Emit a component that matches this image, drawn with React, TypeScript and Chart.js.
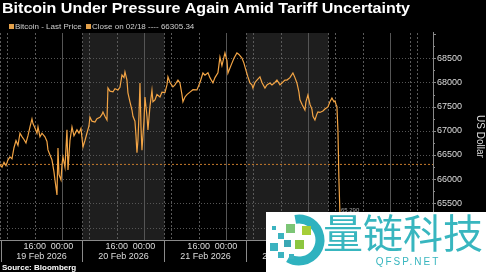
import React, { useEffect, useRef } from "react";
import { Chart, registerables } from "chart.js";

Chart.register(...registerables);

const TITLE = "Bitcoin Under Pressure Again Amid Tariff Uncertainty";
const SERIES_LABEL = "Bitcoin - Last Price";
const CLOSE_LABEL = "Close on 02/18 ---- 66305.34";
const CLOSE_VALUE = 66305.34;
const LAST_LABEL = "65,290";
const SOURCE = "Source: Bloomberg";
const Y_TITLE = "US Dollar";

// hours relative to 20 Feb 00:00 (chart time)
const hours = [
  -18.14, -17.56, -16.97, -16.39, -15.8, -15.22, -14.63, -14.05, -13.46, -12.88,
  -12.29, -11.71, -11.12, -10.54, -9.95, -9.36, -8.78, -8.49, -7.9, -7.32,
  -7.02, -6.44, -5.85, -4.98, -4.39, -4.1, -3.51, -2.93, -2.34, -2.05,
  -1.46, -1.17, -0.88, -0.29, 0, 0.29, 0.88, 1.46, 1.76, 2.34,
  2.93, 3.51, 4.39, 4.98, 5.56, 6.15, 6.73, 7.32, 7.9, 8.19,
  8.78, 9.66, 10.24, 11.12, 11.71, 12.0, 12.58, 13.17, 13.46, 14.05,
  14.93, 15.51, 16.39, 16.97, 17.56, 18.14, 18.44, 19.02, 19.31, 19.9,
  20.49, 20.78, 21.36, 21.66, 21.95, 22.24, 22.53, 22.83, 23.12, 23.41,
  24.0, 24.29, 24.88, 25.17, 25.75, 26.34, 26.63, 27.22, 27.8, 28.68,
  29.27, 30.14, 30.73, 31.02, 31.61, 32.48, 33.07, 33.95, 34.53, 35.12,
  35.41, 36.0, 36.58, 37.46, 38.34, 39.51, 40.39, 41.26, 41.85, 42.73,
  43.31, 44.19, 44.78, 45.65, 46.24, 46.82, 47.7, 48.29, 48.58, 49.17,
  49.75, 50.34, 51.21, 51.8, 52.68, 53.26, 53.85, 54.43, 55.02, 55.6,
  55.9, 56.48, 57.07, 57.95, 58.53, 59.41, 59.99, 60.87, 61.46, 62.33,
  62.92, 63.8, 64.38, 65.26, 65.85, 66.72, 67.6, 68.19, 68.77, 69.36,
  69.65, 70.24, 71.11, 71.41, 71.99, 72.58, 73.16, 73.46, 74.04, 74.63,
  74.92, 75.5, 76.38, 76.97, 77.85, 78.43, 79.02, 79.61, 79.9, 80.19,
  80.48, 80.77, 81.06, 81.36,
];

const prices = [
  66300, 66250, 66350, 66280, 66400, 66460, 66420, 66650, 66800, 66700,
  66950, 66880, 66820, 66750, 66900, 67080, 67245, 67150, 67060, 66950,
  67080, 66875, 66950, 66875, 66780, 66605, 66500, 66400, 66150, 65985,
  65675, 66645, 66100, 65985, 66300, 66460, 66250, 67020, 66190, 66800,
  67080, 66900, 67020, 66950, 67050, 66665, 66800, 66955, 67100, 67285,
  67200, 67180, 67250, 67280, 67340, 67390, 67300, 67225, 67885, 67820,
  67805, 67870, 67845, 67900, 68155, 68100, 68220, 68050, 67785, 67600,
  67430, 67300, 67200, 66900, 66545, 66810, 67300, 67990, 67100, 66600,
  67200, 67700, 67300, 67020, 67500, 67840, 67600, 67640, 67750, 67700,
  67800, 67790, 67950, 68115, 68000, 67910, 67950, 68050, 67990, 67750,
  67600, 67700, 67750, 67800, 67850, 67845, 68000, 68195, 68150, 68200,
  68100, 67990, 68100, 68200, 68525, 68350, 68610, 68450, 68195, 68300,
  68400, 68500, 68610, 68580, 68505, 68400, 68250, 68115, 67990, 67950,
  67885, 68000, 68050, 68115, 68000, 67885, 67950, 67990, 67950, 68000,
  68050, 67950, 67990, 68050, 68050, 68100, 68195, 68100, 67990, 67800,
  67640, 67550, 67430, 67600, 67740, 67550, 67450, 67300, 67225, 67350,
  67390, 67380, 67410, 67450, 67495, 67600, 67680, 67600, 67620, 67550,
  67500, 67020, 66000, 65290,
];

const dayLabels = ["19 Feb 2026", "20 Feb 2026", "21 Feb 2026", "22 Feb 2026", "23 Feb 2026"];
const dayStarts = [-18, 6, 30, 54, 78, 102];
const timeTickHours = [-8, 0, 16, 24, 40, 48, 64, 72, 88, 96];
const timeTickLabels = ["16:00", "00:00", "16:00", "00:00", "16:00", "00:00", "16:00", "00:00", "16:00", "00:00"];
const shadedDays = [
  [6, 30],
  [54, 78],
];
const yTicks = [65000, 65500, 66000, 66500, 67000, 67500, 68000, 68500];

const X_MIN = -18.14;
const X_MAX = 108.6;
const Y_MIN = 64742;
const Y_MAX = 69023;

const FONT = '"Liberation Sans", Arial, sans-serif';

const backgroundPlugin = {
  id: "bgGrid",
  beforeDraw(chart: any) {
    const { ctx, chartArea: a, scales } = chart;
    const x = scales.x;
    const y = scales.y;
    ctx.save();
    ctx.fillStyle = "#000";
    ctx.fillRect(0, 0, chart.width, chart.height);
    ctx.fillStyle = "#1e1e1e";
    for (const [s, e] of shadedDays) {
      const x0 = x.getPixelForValue(s);
      const x1 = x.getPixelForValue(e);
      ctx.fillRect(x0, a.top, x1 - x0, a.bottom - a.top);
    }
    ctx.lineWidth = 1;
    // horizontal grid
    ctx.strokeStyle = "#555";
    ctx.setLineDash([1, 2]);
    for (const v of yTicks) {
      const py = Math.round(y.getPixelForValue(v)) + 0.5;
      ctx.beginPath();
      ctx.moveTo(a.left, py);
      ctx.lineTo(a.right, py);
      ctx.stroke();
    }
    // vertical grid
    for (let h = -16; h <= X_MAX; h += 8) {
      const px = Math.round(x.getPixelForValue(h)) + 0.5;
      if (h % 24 === 0) {
        ctx.setLineDash([]);
        ctx.strokeStyle = "#555";
      } else {
        ctx.setLineDash([2, 2]);
        ctx.strokeStyle = "#5a5a5a";
      }
      ctx.beginPath();
      ctx.moveTo(px, a.top);
      ctx.lineTo(px, a.bottom);
      ctx.stroke();
    }
    ctx.setLineDash([2, 2]);
    ctx.strokeStyle = "#5a5a5a";
    for (const d of dayStarts) {
      if (d <= X_MIN) continue;
      const px = Math.round(x.getPixelForValue(d)) + 0.5;
      ctx.beginPath();
      ctx.moveTo(px, a.top);
      ctx.lineTo(px, a.bottom);
      ctx.stroke();
    }
    ctx.setLineDash([]);
    // axes lines
    ctx.strokeStyle = "#8a8a8a";
    ctx.beginPath();
    ctx.moveTo(a.left, a.bottom + 0.5);
    ctx.lineTo(a.right, a.bottom + 0.5);
    ctx.moveTo(a.right + 0.5, a.top - 1);
    ctx.lineTo(a.right + 0.5, a.bottom);
    ctx.stroke();
    // y tick marks
    for (let v = 64750; v <= Y_MAX; v += 250) {
      const py = Math.round(y.getPixelForValue(v)) + 0.5;
      const major = v % 500 === 0;
      ctx.beginPath();
      ctx.moveTo(a.right, py);
      ctx.lineTo(a.right + (major ? 3 : 2), py);
      ctx.stroke();
    }
    // x label separators
    ctx.strokeStyle = "#8a8a8a";
    for (const d of dayStarts) {
      const px = Math.max(a.left + 1, Math.round(x.getPixelForValue(d))) + 0.5;
      ctx.beginPath();
      ctx.moveTo(px, a.bottom);
      ctx.lineTo(px, a.bottom + 22);
      ctx.stroke();
    }
    ctx.restore();
  },
  afterDraw(chart: any) {
    const { ctx, scales } = chart;
    const x = scales.x;
    const y = scales.y;
    ctx.save();
    // title
    ctx.fillStyle = "#fff";
    ctx.font = "bold 14px " + FONT;
    ctx.textBaseline = "alphabetic";
    ctx.textAlign = "left";
    const tw = ctx.measureText(TITLE).width;
    ctx.save();
    ctx.translate(2, 12.5);
    ctx.scale(408 / tw, 1);
    ctx.fillText(TITLE, 0, 0);
    ctx.restore();
    // legend
    ctx.font = "8px " + FONT;
    ctx.fillStyle = "#e3a04a";
    ctx.fillRect(9, 24, 5, 5);
    ctx.fillRect(86, 24, 5, 5);
    ctx.fillStyle = "#cfcfcf";
    ctx.fillText(SERIES_LABEL, 15, 29);
    ctx.fillText(CLOSE_LABEL, 92, 29);
    // x labels
    ctx.font = "9px " + FONT;
    ctx.fillStyle = "#ddd";
    ctx.textAlign = "center";
    timeTickHours.forEach((h, i) => {
      ctx.fillText(timeTickLabels[i], x.getPixelForValue(h), 249);
    });
    dayLabels.forEach((lab, i) => {
      const c = (x.getPixelForValue(dayStarts[i]) + x.getPixelForValue(dayStarts[i + 1])) / 2;
      ctx.fillText(lab, c, 259);
    });
    // source
    ctx.textAlign = "left";
    ctx.fillStyle = "#fff";
    ctx.font = "bold 8px " + FONT;
    ctx.fillText(SOURCE, 2, 270);
    // y title
    ctx.save();
    ctx.translate(480, 136.5);
    ctx.rotate(Math.PI / 2);
    ctx.font = "10px " + FONT;
    ctx.fillStyle = "#ddd";
    ctx.textAlign = "center";
    ctx.textBaseline = "middle";
    ctx.fillText(Y_TITLE, 0, 0);
    ctx.restore();
    // last value label
    ctx.font = "6px " + FONT;
    ctx.fillStyle = "#aaa";
    ctx.textBaseline = "middle";
    ctx.fillText(LAST_LABEL, x.getPixelForValue(hours[hours.length - 1]) + 1, y.getPixelForValue(prices[prices.length - 1]) - 3);

    // watermark
    ctx.fillStyle = "#fff";
    ctx.fillRect(266, 212, 220, 60);
    ctx.strokeStyle = "#2fb2bf";
    ctx.lineWidth = 9;
    ctx.beginPath();
    ctx.arc(299, 240, 21, -1.75, 2.1);
    ctx.stroke();
    const sq: [number, number, number, string][] = [
      [272, 226, 4, "#3bb3c0"],
      [278, 233, 6, "#3bb3c0"],
      [286, 224, 9, "#7cc576"],
      [302, 226, 9, "#a6ce39"],
      [270, 243, 8, "#3bb3c0"],
      [284, 240, 7, "#3aa8b5"],
      [295, 240, 9, "#8cc63f"],
      [278, 252, 6, "#3bb3c0"],
      [289, 254, 5, "#3bb3c0"],
    ];
    for (const [sx, sy, s, c] of sq) {
      ctx.fillStyle = c;
      ctx.fillRect(sx, sy, s, s);
    }
    ctx.fillStyle = "#38b6bf";
    ctx.font = '40px "Noto Sans CJK SC", sans-serif';
    ctx.textAlign = "left";
    ctx.textBaseline = "middle";
    ctx.fillText("量链科技", 323, 233);
    ctx.font = "10px " + FONT;
    ctx.textAlign = "center";
    (ctx as any).letterSpacing = "2px";
    ctx.fillText("QFSP.NET", 408, 262);
    ctx.restore();
  },
};

export default function App() {
  const ref = useRef<HTMLCanvasElement | null>(null);
  useEffect(() => {
    if (!ref.current) return;
    const chart = new Chart(ref.current, {
      type: "line",
      data: {
        datasets: [
          {
            label: SERIES_LABEL,
            data: hours.map((h, i) => ({ x: h, y: prices[i] })),
            borderColor: "#f2a445",
            borderWidth: 1.2,
            pointRadius: 0,
            tension: 0,
          },
          {
            label: CLOSE_LABEL,
            data: [
              { x: X_MIN, y: CLOSE_VALUE },
              { x: X_MAX, y: CLOSE_VALUE },
            ],
            borderColor: "#c47a2c",
            borderWidth: 1,
            borderDash: [2, 2],
            pointRadius: 0,
          },
        ],
      },
      options: {
        animation: false,
        responsive: false,
        events: [],
        layout: { padding: { top: 33, bottom: 32, left: 0, right: 0 } },
        plugins: { legend: { display: false }, tooltip: { enabled: false }, title: { display: false } },
        scales: {
          x: { type: "linear", display: false, min: X_MIN, max: X_MAX },
          y: {
            type: "linear",
            position: "right",
            min: Y_MIN,
            max: Y_MAX,
            grid: { display: false, drawTicks: false, tickLength: 0 },
            border: { display: false },
            afterBuildTicks: (scale: any) => {
              scale.ticks = yTicks.map((v) => ({ value: v }));
            },
            afterFit: (scale: any) => {
              scale.width = 53;
            },
            ticks: {
              padding: 4,
              color: "#ddd",
              font: { family: FONT, size: 9 },
              callback: (v: any) => String(v),
            },
          },
        },
      },
      plugins: [backgroundPlugin],
    });
    return () => chart.destroy();
  }, []);
  return (
    <div style={{ position: "fixed", left: 0, top: 0, width: 486, height: 272, background: "#000" }}>
      <canvas ref={ref} width={486} height={272} style={{ display: "block" }} />
    </div>
  );
}
